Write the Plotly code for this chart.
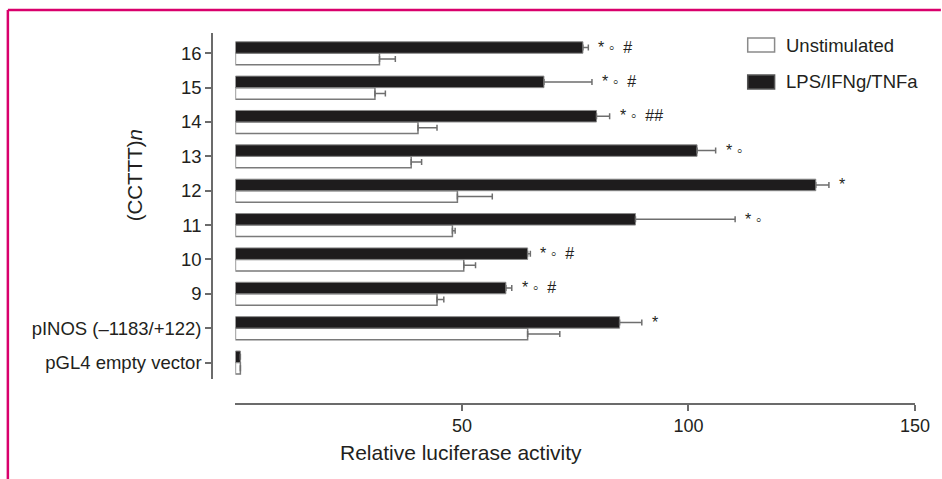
import plotly.graph_objects as go

# Constructs, bottom to top
constructs = ["pGL4 empty vector", "pINOS (–1183/+122)", "9", "10", "11",
              "12", "13", "14", "15", "16"]

# Relative luciferase activity (mean) and upper SEM
unstimulated = [1.1, 64.5, 44.5, 50.4, 47.9, 49.0, 38.8, 40.3, 30.8, 31.8]
unstimulated_err = [0.0, 7.1, 1.5, 2.6, 0.6, 7.7, 2.3, 4.2, 2.3, 3.5]
stimulated = [1.1, 84.8, 59.7, 64.5, 88.3, 128.1, 101.9, 79.7, 68.1, 76.7]
stimulated_err = [0.0, 4.9, 1.3, 0.6, 22.0, 2.9, 4.1, 2.9, 10.6, 1.2]

# Significance marks next to the stimulated bars
marks = ["", "*", "* ◦ #", "* ◦ #", "* ◦", "*", "* ◦", "* ◦ ##", "* ◦ #", "* ◦ #"]

x_ticks = [50, 100, 150]

TEXT = "#231f20"
AXIS = "#6b6b6b"
FONT = "Liberation Sans, Arial, sans-serif"

W, H = 942, 479
ML, MR, MT, MB = 212, 24, 33, 75
PW, PH = W - ML - MR, H - MT - MB


def px(xp):
    return (xp - ML) / PW


def py(yp):
    return (H - MB - yp) / PH


def spaced(mark):
    # a little extra room before the hash signs
    return mark.replace(" #", "\u00a0 #")


fig = go.Figure()

fig.add_trace(go.Bar(
    name="Unstimulated", y=constructs, x=unstimulated, orientation="h",
    marker=dict(color="white", line=dict(color="#7a7a7a", width=1.5)),
    error_x=dict(type="data", array=unstimulated_err, symmetric=False,
                 arrayminus=[0] * len(unstimulated_err),
                 color="#6e6e6e", thickness=1.5, width=3),
))
fig.add_trace(go.Bar(
    name="LPS/IFNg/TNFa", y=constructs, x=stimulated, orientation="h",
    marker=dict(color="#1e1c1d", line=dict(color="#8a8a8a", width=1)),
    error_x=dict(type="data", array=stimulated_err, symmetric=False,
                 arrayminus=[0] * len(stimulated_err),
                 color="#6e6e6e", thickness=1.5, width=3),
))

annotations = []
for i, (v, e, m) in enumerate(zip(stimulated, stimulated_err, marks)):
    if m:
        # category index keeps numeric-looking labels from being cast
        annotations.append(dict(
            x=v + e, y=i, xref="x", yref="y", text=spaced(m), showarrow=False,
            xanchor="left", yanchor="middle", xshift=8, yshift=6,
            font=dict(size=16, color=TEXT, family=FONT)))

# Axis titles
annotations.append(dict(
    x=px(462), y=py(452), xref="paper", yref="paper",
    text="Relative luciferase activity", showarrow=False,
    xanchor="center", yanchor="middle",
    font=dict(size=21, color=TEXT, family=FONT)))
annotations.append(dict(
    x=px(134), y=py(175), xref="paper", yref="paper",
    text="(CCTTT)<i>n</i>", showarrow=False, textangle=-90,
    xanchor="center", yanchor="middle",
    font=dict(size=20.5, color=TEXT, family=FONT)))

# Legend entries
shapes = []
legend_items = [("Unstimulated", "white", "#8a8a8a", 45),
                ("LPS/IFNg/TNFa", "#1e1c1d", "#555555", 82)]
for label, fill, edge, yc in legend_items:
    shapes.append(dict(type="rect", xref="paper", yref="paper",
                       x0=px(750), x1=px(777), y0=py(yc - 7), y1=py(yc + 7),
                       fillcolor=fill, line=dict(color=edge, width=1.5)))
    annotations.append(dict(
        x=px(786), y=py(yc), xref="paper", yref="paper", text=label,
        showarrow=False, xanchor="left", yanchor="middle",
        font=dict(size=18.5, color=TEXT, family=FONT)))

# Frame lines
BORDER = "#d9006c"
shapes.append(dict(type="line", xref="paper", yref="paper",
                   x0=px(7), x1=px(7), y0=py(10), y1=py(H + 2),
                   line=dict(color=BORDER, width=2.5)))
shapes.append(dict(type="line", xref="paper", yref="paper",
                   x0=px(7), x1=px(W + 2), y0=py(10), y1=py(10),
                   line=dict(color=BORDER, width=2.5)))

fig.update_layout(
    width=W, height=H,
    margin=dict(l=ML, r=MR, t=MT, b=MB),
    paper_bgcolor="white", plot_bgcolor="white",
    barmode="group", bargap=0.33, bargroupgap=0,
    showlegend=False,
    font=dict(family=FONT, color=TEXT, size=18),
    annotations=annotations, shapes=shapes,
    xaxis=dict(
        domain=[px(235.5), 1], range=[0, 150],
        anchor="free", position=0,
        tickvals=x_ticks, ticks="outside", ticklen=6, tickwidth=1.5,
        tickcolor=AXIS, showline=True, linecolor=AXIS, linewidth=1.5,
        showgrid=False, zeroline=False,
        tickfont=dict(size=18, color=TEXT, family=FONT),
    ),
    yaxis=dict(
        domain=[py(379), 1], range=[-0.48, 9.59], type="category",
        categoryorder="array", categoryarray=constructs,
        anchor="free", position=0,
        ticks="outside", ticklen=6, tickwidth=1.5, tickcolor=AXIS,
        showline=True, linecolor=AXIS, linewidth=1.5,
        showgrid=False, zeroline=False,
        tickfont=dict(size=18.5, color=TEXT, family=FONT),
    ),
)

fig.write_html("out.html")
